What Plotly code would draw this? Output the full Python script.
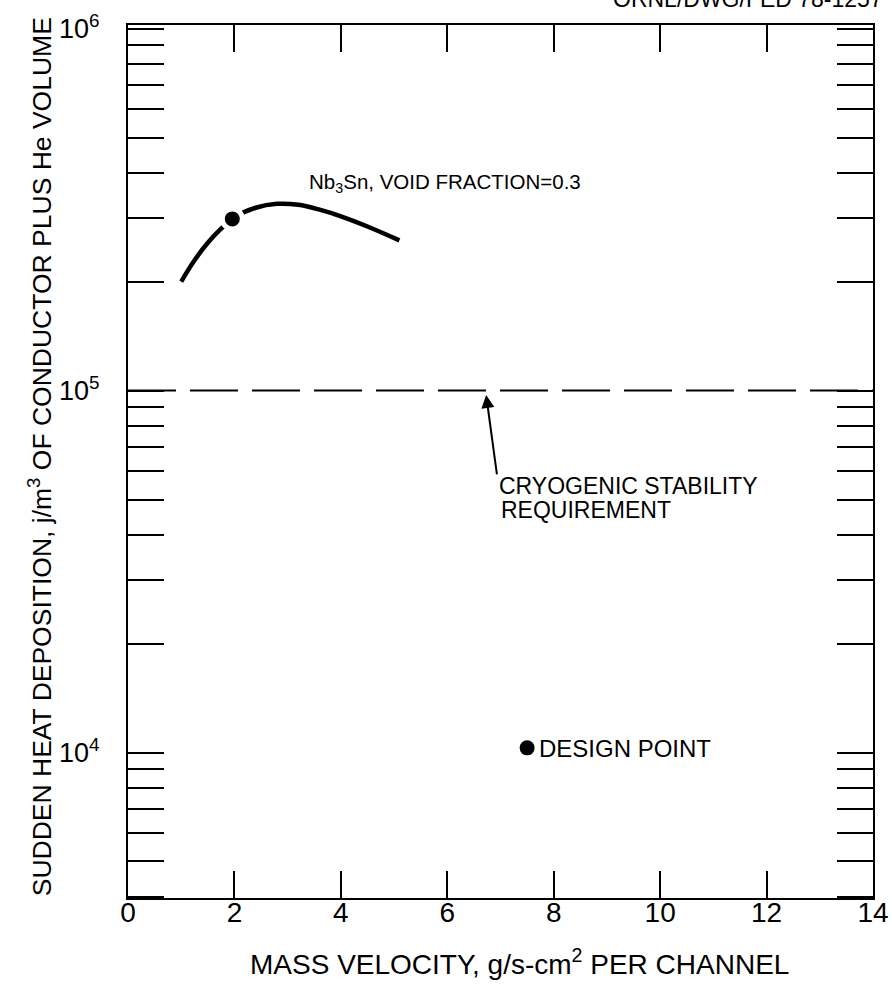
import plotly.graph_objects as go

# ---- data ----
curve_x = [1.0, 1.25, 1.5, 1.75, 2.0, 2.4, 2.8, 3.2, 3.6, 4.0, 4.5, 5.1]
curve_y = [2.0e5, 2.29e5, 2.56e5, 2.80e5, 3.01e5, 3.20e5, 3.28e5, 3.26e5, 3.16e5, 3.03e5, 2.84e5, 2.60e5]
curve_dot_x = [1.96]
curve_dot_y = [2.98e5]
design_x = [7.5]
design_y = [1.03e4]
requirement_y = 1e5

x_tickvals = [0, 2, 4, 6, 8, 10, 12, 14]
x_ticktext = ["0", "2", "4", "6", "8", "10", "12", "14"]
y_tickvals = [1e4, 1e5, 1e6]
y_ticktext = ["10<sup>4</sup>", "10<sup>5</sup>", "10<sup>6</sup>"]
y_minor = [m * d for d in (1e3, 1e4, 1e5) for m in range(2, 10)]

FONT = "Liberation Sans, Arial, sans-serif"

fig = go.Figure()
fig.add_trace(go.Scatter(x=curve_x, y=curve_y, mode="lines",
                         line=dict(color="black", width=4.5, shape="spline", smoothing=1.0),
                         showlegend=False, hoverinfo="skip"))
fig.add_trace(go.Scatter(x=curve_dot_x, y=curve_dot_y, mode="markers",
                         marker=dict(color="black", size=20, line=dict(color="white", width=5)),
                         showlegend=False, hoverinfo="skip"))
fig.add_trace(go.Scatter(x=design_x, y=design_y, mode="markers",
                         marker=dict(color="black", size=15),
                         showlegend=False, hoverinfo="skip"))

fig.add_shape(type="line", xref="paper", yref="y", x0=0, x1=1,
              y0=requirement_y, y1=requirement_y,
              line=dict(color="black", width=2, dash="48px,14px"))

# arrow to the requirement line (annotation positions on a log axis are in log10 units)
fig.add_annotation(x=6.73, y=4.988, ax=11, ay=81, xref="x", yref="y",
                   text="", showarrow=True,
                   arrowhead=2, arrowsize=1.3, arrowwidth=2, arrowcolor="black")

fig.add_annotation(x=3.36, y=5.573, xref="x", yref="y", xanchor="left", yanchor="middle",
                   text="Nb<sub>3</sub>Sn, VOID FRACTION=0.3", showarrow=False,
                   font=dict(family=FONT, size=20.5, color="black"))
fig.add_annotation(x=6.93, y=4.736, xref="x", yref="y", xanchor="left", yanchor="middle",
                   text="CRYOGENIC STABILITY", showarrow=False,
                   font=dict(family=FONT, size=23, color="black"))
fig.add_annotation(x=6.98, y=4.670, xref="x", yref="y", xanchor="left", yanchor="middle",
                   text="REQUIREMENT", showarrow=False,
                   font=dict(family=FONT, size=23, color="black"))
fig.add_annotation(x=7.69, y=4.012, xref="x", yref="y", xanchor="left", yanchor="middle",
                   text="DESIGN POINT", showarrow=False,
                   font=dict(family=FONT, size=24, color="black"))

# axis titles
fig.add_annotation(x=-0.118, y=0.505, xref="paper", yref="paper", textangle=-90,
                   xanchor="center", yanchor="middle",
                   text="SUDDEN HEAT DEPOSITION, j/m<sup>3</sup> OF CONDUCTOR PLUS He VOLUME",
                   showarrow=False, font=dict(family=FONT, size=26.5, color="black"))
fig.add_annotation(x=0.525, y=-0.073, xref="paper", yref="paper",
                   xanchor="center", yanchor="middle",
                   text="MASS VELOCITY, g/s-cm<sup>2</sup> PER CHANNEL",
                   showarrow=False, font=dict(family=FONT, size=28, color="black"))
# drawing number (cut off at top of the page)
fig.add_annotation(x=1.016, y=1.0 + 26 / 873, xref="paper", yref="paper", xanchor="right",
                   yanchor="middle", text="ORNL/DWG/FED 78-1257", showarrow=False,
                   font=dict(family=FONT, size=23, color="black"))

fig.update_xaxes(range=[0, 14], tickvals=x_tickvals, ticktext=x_ticktext,
                 ticks="inside", ticklen=27, tickwidth=2, tickcolor="black",
                 showline=True, linewidth=2, linecolor="black", mirror="ticks",
                 showgrid=False, zeroline=False, automargin=False, ticklabelstandoff=-12,
                 tickfont=dict(family=FONT, size=28, color="black"))
fig.update_yaxes(type="log", range=[3.598, 6.01], tickvals=y_tickvals, ticktext=y_ticktext,
                 ticks="inside", ticklen=36, tickwidth=2, tickcolor="black",
                 minor=dict(tickvals=y_minor, ticks="inside", ticklen=36, tickwidth=2,
                            tickcolor="black", showgrid=False),
                 showline=True, linewidth=2, linecolor="black", mirror="ticks",
                 showgrid=False, zeroline=False, ticklabelstandoff=21, automargin=False,
                 tickfont=dict(family=FONT, size=27, color="black"))

fig.update_layout(width=892, height=1007, margin=dict(l=128, r=19, t=25, b=109),
                  plot_bgcolor="white", paper_bgcolor="white", showlegend=False,
                  hovermode=False)

fig.write_html("out.html", config={"displayModeBar": False, "staticPlot": True},
               post_script="document.body.style.margin='0';")
